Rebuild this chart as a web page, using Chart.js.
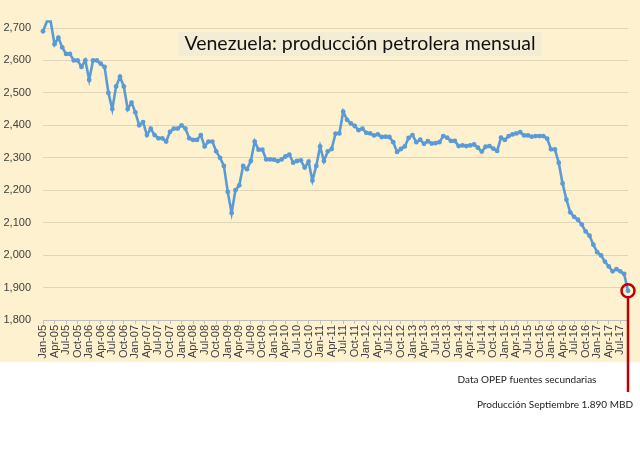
<!DOCTYPE html>
<html>
<head>
<meta charset="utf-8">
<script src="https://cdn.jsdelivr.net/npm/chart.js@4/dist/chart.umd.min.js"></script>
<style>
  body { margin: 0; background: #ffffff; }
  #wrap { width: 640px; height: 453px; position: relative; }
</style>
</head>
<body>
<div id="wrap"><canvas id="prodChart"></canvas></div>
<script>
const ctx = document.getElementById('prodChart');

// meses y años del eje x
const monthNames = ['Jan', 'Feb', 'Mar', 'Apr', 'May', 'Jun', 'Jul', 'Aug', 'Sep', 'Oct', 'Nov', 'Dec'];
const years = ['05', '06', '07', '08', '09', '10', '11', '12', '13', '14', '15', '16', '17'];

// producción mensual (miles de barriles diarios)
const prod2005 = [2690, 2720, 2720, 2650, 2670, 2640, 2620, 2620, 2600, 2600, 2580, 2600];
const prod2006 = [2540, 2600, 2600, 2590, 2580, 2500, 2450, 2520, 2550, 2520, 2450, 2470];
const prod2007 = [2440, 2400, 2410, 2370, 2390, 2370, 2360, 2360, 2350, 2380, 2390, 2390];
const prod2008 = [2400, 2390, 2360, 2355, 2355, 2370, 2335, 2350, 2350, 2320, 2300, 2275];
const prod2009 = [2195, 2130, 2200, 2215, 2275, 2265, 2290, 2350, 2325, 2325, 2295, 2295];
const prod2010 = [2294, 2290, 2295, 2304, 2310, 2285, 2290, 2292, 2270, 2288, 2230, 2275];
const prod2011 = [2335, 2290, 2320, 2327, 2374, 2375, 2442, 2417, 2406, 2398, 2385, 2390];
const prod2012 = [2377, 2375, 2369, 2372, 2364, 2365, 2364, 2348, 2318, 2327, 2335, 2361];
const prod2013 = [2370, 2348, 2356, 2343, 2351, 2344, 2345, 2348, 2367, 2362, 2352, 2352];
const prod2014 = [2336, 2338, 2336, 2338, 2341, 2331, 2319, 2334, 2336, 2328, 2321, 2362];
const prod2015 = [2355, 2367, 2372, 2375, 2379, 2369, 2369, 2365, 2367, 2367, 2367, 2359];
const prod2016 = [2326, 2326, 2285, 2221, 2171, 2132, 2118, 2109, 2094, 2073, 2060, 2032];
const prod2017 = [2009, 1999, 1980, 1965, 1950, 1957, 1950, 1942, 1890];

const yTicks = [1800, 1900, 2000, 2100, 2200, 2300, 2400, 2500, 2600, 2700];

const titleText = 'Venezuela: producción petrolera mensual';
const noteSource = 'Data OPEP fuentes secundarias';
const noteLast = 'Producción Septiembre 1.890 MBD';

const production = [].concat(prod2005, prod2006, prod2007, prod2008, prod2009, prod2010,
  prod2011, prod2012, prod2013, prod2014, prod2015, prod2016, prod2017);

const labels = [];
years.forEach((yy) => {
  monthNames.forEach((m) => labels.push(m + '-' + yy));
});
labels.length = production.length;

// fondo amarillo, título y marca del último dato
const decorations = {
  id: 'decorations',
  beforeDraw(chart) {
    const c = chart.ctx;
    c.save();
    c.fillStyle = '#FDF1CF';
    c.fillRect(0, 0, chart.width, 362);
    c.restore();
  },
  afterDraw(chart) {
    const c = chart.ctx;
    c.save();
    // título
    c.font = '19.5px Lato';
    const w = c.measureText(titleText).width;
    const cx = 360;
    c.fillStyle = 'rgba(236, 234, 222, 0.5)';
    c.fillRect(cx - w / 2 - 6, 32, w + 12, 24);
    c.fillStyle = '#111111';
    c.textAlign = 'center';
    c.textBaseline = 'middle';
    c.fillText(titleText, cx, 44);

    // círculo rojo en el último mes
    const pts = chart.getDatasetMeta(0).data;
    const last = pts[pts.length - 1];
    c.strokeStyle = '#C00000';
    c.lineWidth = 2.5;
    c.beginPath();
    c.arc(last.x, last.y, 6.5, 0, Math.PI * 2);
    c.stroke();
    c.beginPath();
    c.moveTo(last.x, last.y + 6.5);
    c.lineTo(last.x, 392);
    c.stroke();

    // notas
    c.font = '10px Lato';
    c.fillStyle = '#222222';
    c.textAlign = 'center';
    c.fillText(noteSource, 527, 380);
    c.textAlign = 'right';
    c.fillText(noteLast, 633, 405);
    c.restore();
  },
};

const data = {
  labels: labels,
  datasets: [
    {
      label: 'Producción',
      data: production,
      borderColor: '#5B9BD5',
      backgroundColor: '#5B9BD5',
      borderWidth: 2.6,
      pointRadius: 2.4,
      pointBorderWidth: 0,
      tension: 0,
      clip: false,
    },
  ],
};

const config = {
  type: 'line',
  data: data,
  options: {
    responsive: true,
    maintainAspectRatio: false,
    animation: false,
    layout: { padding: { left: 0, right: 12, top: 28, bottom: 91 } },
    plugins: {
      legend: { display: false },
      tooltip: { enabled: false },
      title: { display: false },
    },
    scales: {
      x: {
        offset: false,
        afterFit(scale) {
          scale.height = 42;
        },
        grid: {
          drawOnChartArea: false,
          drawTicks: true,
          tickLength: 4,
          color: '#BFBFBF',
        },
        border: { display: true, color: '#BFBFBF' },
        ticks: {
          autoSkip: false,
          minRotation: 90,
          maxRotation: 90,
          padding: 1,
          color: '#404040',
          font: { family: 'Liberation Sans', size: 11 },
          callback(value, index) {
            return index % 3 === 0 ? labels[index] : null;
          },
        },
      },
      y: {
        min: yTicks[0],
        max: yTicks[yTicks.length - 1],
        afterFit(scale) {
          scale.width = 43;
        },
        afterBuildTicks(scale) {
          scale.ticks = yTicks.map((v) => ({ value: v }));
        },
        grid: {
          color: 'rgba(150, 140, 120, 0.28)',
          drawTicks: false,
        },
        border: { display: false },
        ticks: {
          padding: 12,
          color: '#404040',
          font: { family: 'Liberation Sans', size: 11 },
          callback(value) {
            return value.toLocaleString('en-US');
          },
        },
      },
    },
  },
  plugins: [decorations],
};

const prodChart = new Chart(ctx, config);
</script>
</body>
</html>
